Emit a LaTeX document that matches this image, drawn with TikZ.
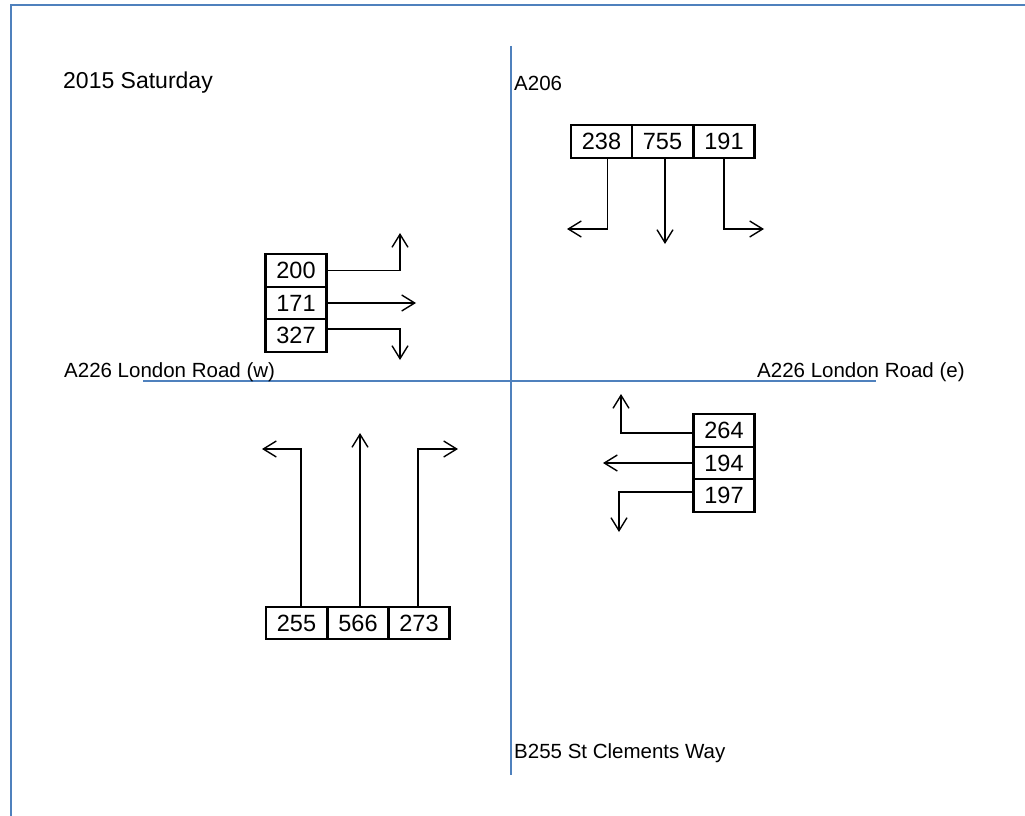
\documentclass[tikz,border=0pt]{standalone}
\usepackage{fontspec}
\setmainfont{Liberation Sans}
\usetikzlibrary{arrows.meta}
\definecolor{roadblue}{RGB}{79,129,189}

\begin{document}
\begin{tikzpicture}[x=1pt, y=-1pt,
		cell/.style={rectangle, draw, line width=2.4pt, minimum width=61pt,
				minimum height=32.5pt, inner sep=0pt, font=\fontsize{23.5}{26}\selectfont},
		lbl/.style={inner sep=0pt, font=\fontsize{20.5}{24}\selectfont},
		road/.style={draw=roadblue, line width=1.3pt},
		frame/.style={draw=roadblue, line width=2pt},
		turn/.style={line width=1.4pt, -{Straight Barb[length=13pt, width=16pt, line width=1.4pt]}},
	]
	\useasboundingbox (0,0) rectangle (1025,816);

	% frame, open to the right and bottom
	\coordinate (fTL) at (11,5);
	\coordinate (fBL) at (11,816);
	\coordinate (fTR) at (1025,5);
	\draw [frame] (fBL) -- (fTL) -- (fTR);

	% roads
	\coordinate (rdN) at (511,46);
	\coordinate (rdS) at (511,775);
	\coordinate (rdW) at (143,381);
	\coordinate (rdE) at (876,381);
	\draw [road] (rdN) -- (rdS);
	\draw [road] (rdW) -- (rdE);

	% labels
	\node (title) [lbl, anchor=west, font=\fontsize{23}{26}\selectfont] at (63,83) {2015 Saturday};
	\node (armN) [lbl, anchor=west] at (514,83)  {A206};
	\node (armW) [lbl, anchor=west] at (64,372)  {A226 London Road (w)};
	\node (armE) [lbl, anchor=west] at (757,372) {A226 London Road (e)};
	\node (armS) [lbl, anchor=west] at (514,753) {B255 St Clements Way};

	% north approach
	\node (n1) [cell] at (601.5,141.5) {238};
	\node (n2) [cell] at (662.5,141.5) {755};
	\node (n3) [cell] at (724,141.5)   {191};
	\coordinate (n1end) at (567,229);
	\coordinate (n2end) at (665,244);
	\coordinate (n3end) at (764,229);
	\draw [turn] ([xshift=6]n1.south) |- (n1end);
	\draw [turn] ([xshift=2.5]n2.south) -- (n2end);
	\draw [turn] (n3.south) |- (n3end);

	% west approach
	\node (w1) [cell] at (296,270.5) {200};
	\node (w2) [cell] at (296,303)   {171};
	\node (w3) [cell] at (296,335.5) {327};
	\coordinate (w1end) at (400,233);
	\coordinate (w2end) at (416,303);
	\coordinate (w3end) at (400,360);
	\draw [turn] (w1.east) -| (w1end);
	\draw [turn] (w2.east) -- (w2end);
	\draw [turn] ([yshift=6.5]w3.east) -| (w3end);

	% east approach
	\node (e1) [cell] at (724,430.5) {264};
	\node (e2) [cell] at (724,463)   {194};
	\node (e3) [cell] at (724,495.5) {197};
	\coordinate (e1end) at (621,394);
	\coordinate (e2end) at (603,463);
	\coordinate (e3end) at (619,532);
	\draw [turn] ([yshift=-2.5]e1.west) -| (e1end);
	\draw [turn] (e2.west) -- (e2end);
	\draw [turn] ([yshift=3.5]e3.west) -| (e3end);

	% south approach
	\node (s1) [cell] at (296.5,623) {255};
	\node (s2) [cell] at (358,623)   {566};
	\node (s3) [cell] at (419,623)   {273};
	\coordinate (s1end) at (262,449);
	\coordinate (s2end) at (360,433);
	\coordinate (s3end) at (458,449);
	\draw [turn] ([xshift=4.5]s1.north) |- (s1end);
	\draw [turn] ([xshift=2]s2.north) -- (s2end);
	\draw [turn] ([xshift=-1]s3.north) |- (s3end);
\end{tikzpicture}
\end{document}
